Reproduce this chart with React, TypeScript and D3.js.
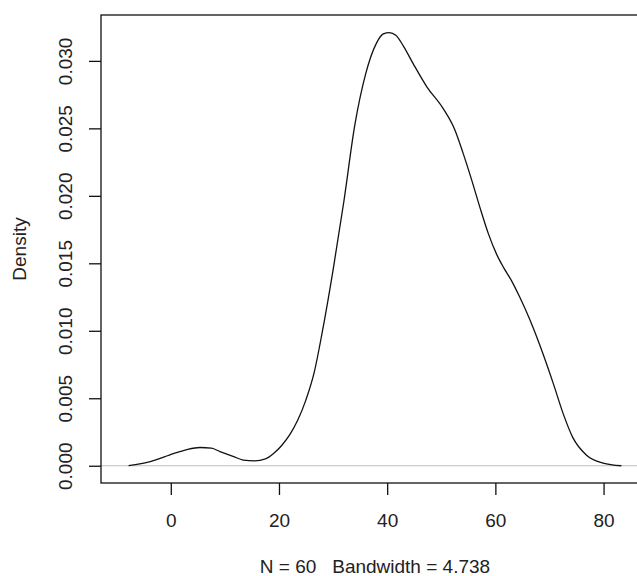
import React, { useRef, useEffect } from 'react';
import * as d3 from 'd3';

// density curve
const xs = [-7.8, -3.8, 0.5, 3, 5.4, 7.5, 9.1, 11.5, 13.4, 15.5, 17.5, 19, 20.5, 22, 23.5, 25, 26.5, 28, 30, 32, 34, 36, 38, 39.3, 40.4, 41.6, 43, 44.8, 47.3, 50.3, 52.5, 54.0, 55.6, 57.1, 58.7, 60.2, 61.5, 63, 64.5, 66.4, 68.8, 70.7, 72.5, 74.3, 76.8, 79.9, 83.3];
const densities = [0.0, 0.0003, 0.0009, 0.0012, 0.00135, 0.0013, 0.00105, 0.0007, 0.00042, 0.00036, 0.0005, 0.0009, 0.0015, 0.0023, 0.0034, 0.0049, 0.0069, 0.0099, 0.0145, 0.0196, 0.0252, 0.029, 0.0313, 0.032, 0.0321, 0.0319, 0.0311, 0.0298, 0.0281, 0.0265, 0.0249, 0.0232, 0.0212, 0.0192, 0.0172, 0.0157, 0.0147, 0.0137, 0.0125, 0.0108, 0.0083, 0.0061, 0.0039, 0.0021, 0.0008, 0.0002, 0.0];

const xTicks = [0, 20, 40, 60, 80];
const yTicks = [0, 0.005, 0.01, 0.015, 0.02, 0.025, 0.03];
const xLabel = 'N = 60   Bandwidth = 4.738';
const yLabel = 'Density';

const width = 637;
const height = 576;
const font = '"Liberation Sans", Arial, sans-serif';

const App = () => {
  const ref = useRef<SVGSVGElement>(null);

  useEffect(() => {
    const svg = d3.select(ref.current);
    svg.selectAll('*').remove();

    const left = 101, right = 649, top = 15, bottom = 483;
    const x = d3.scaleLinear().domain([-12.9, 88.4]).range([left, right]);
    const y = d3.scaleLinear().domain([-0.00128, 0.0334]).range([bottom, top]);

    // zero line
    svg.append('line')
      .attr('x1', left).attr('x2', right)
      .attr('y1', y(0)).attr('y2', y(0))
      .attr('stroke', '#bebebe').attr('stroke-width', 1.2);

    const pts = xs.map((v, i) => [v, densities[i]] as [number, number]);
    const line = d3.line<[number, number]>()
      .x(d => x(d[0]))
      .y(d => y(d[1]))
      .curve(d3.curveMonotoneX);

    svg.append('path')
      .datum(pts)
      .attr('d', line)
      .attr('fill', 'none')
      .attr('stroke', '#111')
      .attr('stroke-width', 1.3);

    // box
    svg.append('rect')
      .attr('x', left).attr('y', top)
      .attr('width', right - left).attr('height', bottom - top)
      .attr('fill', 'none').attr('stroke', '#111').attr('stroke-width', 1.3);

    const xAxis = d3.axisBottom(x).tickValues(xTicks).tickSize(12).tickPadding(6).tickFormat(d3.format('d'));
    const gx = svg.append('g').attr('transform', `translate(0, ${bottom})`).call(xAxis);
    gx.select('.domain').remove();
    gx.selectAll('line').attr('stroke', '#111').attr('stroke-width', 1.3);
    gx.selectAll('text').attr('font-family', font).attr('font-size', 19).attr('fill', '#222')
      .attr('dy', null).attr('y', 44);

    const yAxis = d3.axisLeft(y).tickValues(yTicks).tickSize(12).tickFormat(d3.format('.3f'));
    const gy = svg.append('g').attr('transform', `translate(${left}, 0)`).call(yAxis);
    gy.select('.domain').remove();
    gy.selectAll('line').attr('stroke', '#111').attr('stroke-width', 1.3);
    gy.selectAll('text')
      .attr('font-family', font).attr('font-size', 19).attr('fill', '#222')
      .attr('x', null).attr('dy', null)
      .attr('text-anchor', 'middle')
      .attr('transform', 'translate(-29, 0) rotate(-90)');

    svg.append('text')
      .attr('x', (left + right) / 2).attr('y', 573)
      .attr('text-anchor', 'middle')
      .attr('font-family', font).attr('font-size', 19).attr('fill', '#222')
      .attr('xml:space', 'preserve')
      .style('white-space', 'pre')
      .text(xLabel);

    svg.append('text')
      .attr('transform', `translate(26, ${(top + bottom) / 2}) rotate(-90)`)
      .attr('text-anchor', 'middle')
      .attr('font-family', font).attr('font-size', 19).attr('fill', '#222')
      .text(yLabel);
  }, []);

  return (
    <svg ref={ref} width={width} height={height} style={{ display: 'block', position: 'absolute', left: 0, top: 0, background: '#fff' }}></svg>
  );
};

export default App;
